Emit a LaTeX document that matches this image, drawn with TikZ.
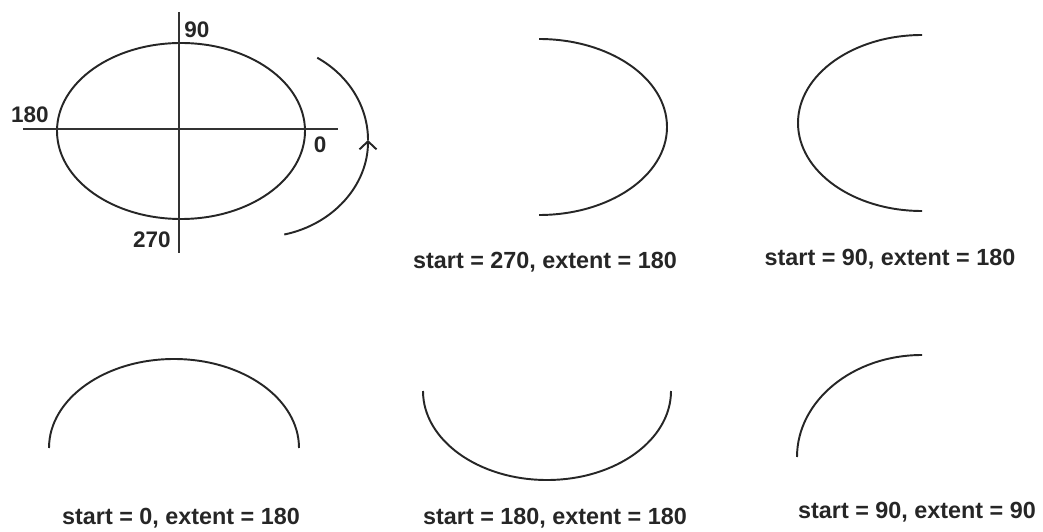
\documentclass[tikz,border=0pt]{standalone}
\usepackage{fontspec}
\setmainfont{Liberation Sans}
\usetikzlibrary{arrows.meta}

\begin{document}
\begin{tikzpicture}[
  x=0.02cm,y=0.02cm,
  every node/.style={inner sep=0pt,outer sep=0pt},
  captxt/.style={font=\fontsize{13.3}{16}\selectfont\bfseries,text=black!85},
  deg/.style={font=\fontsize{12.8}{15}\selectfont\bfseries,text=black!85},
  curve/.style={line width=1.1pt,black!85},
  axis/.style={line width=0.6pt,black!80},
]
\useasboundingbox (0,0) rectangle (1043,531);

% full ellipse with its axes
\draw[curve](181,400) ellipse[x radius=124,y radius=88];
\draw[axis](23,402)--(338,402);
\draw[axis](179,519)--(179,278);
\node[deg](A90)at(197,501){90};
\node[deg](A180)at(30,416){180};
\node[deg](A0)at(320,386){0};
\node[deg](A270)at(152,291){270};

% direction of the angles
\draw[curve,-{Straight Barb[length=1.6mm,width=3.4mm]}]
  (260,391)++(-77:108 and 97) arc[start angle=-77,end angle=0,x radius=108,y radius=97];
\draw[curve]
  (260,391)++(0:108 and 97) arc[start angle=0,end angle=58,x radius=108,y radius=97];

% start = 270, extent = 180
\draw[curve](539,404)++(270:128 and 88)
  arc[start angle=270,delta angle=180,x radius=128,y radius=88];
\node[captxt](C1)at(545,269){start = 270, extent = 180};

% start = 90, extent = 180
\draw[curve](922,408)++(90:124 and 88)
  arc[start angle=90,delta angle=180,x radius=124,y radius=88];
\node[captxt](C2)at(890,272){start = 90, extent = 180};

% start = 0, extent = 180
\draw[curve](174,83)++(0:125 and 89)
  arc[start angle=0,delta angle=180,x radius=125,y radius=89];
\node[captxt](C3)at(181,13){start = 0, extent = 180};

% start = 180, extent = 180
\draw[curve](547,140)++(180:124 and 89)
  arc[start angle=180,delta angle=180,x radius=124,y radius=89];
\node[captxt](C4)at(555,13){start = 180, extent = 180};

% start = 90, extent = 90
\draw[curve](922,74)++(90:125 and 102)
  arc[start angle=90,delta angle=90,x radius=125,y radius=102];
\node[captxt](C5)at(917,19){start = 90, extent = 90};
\end{tikzpicture}
\end{document}
